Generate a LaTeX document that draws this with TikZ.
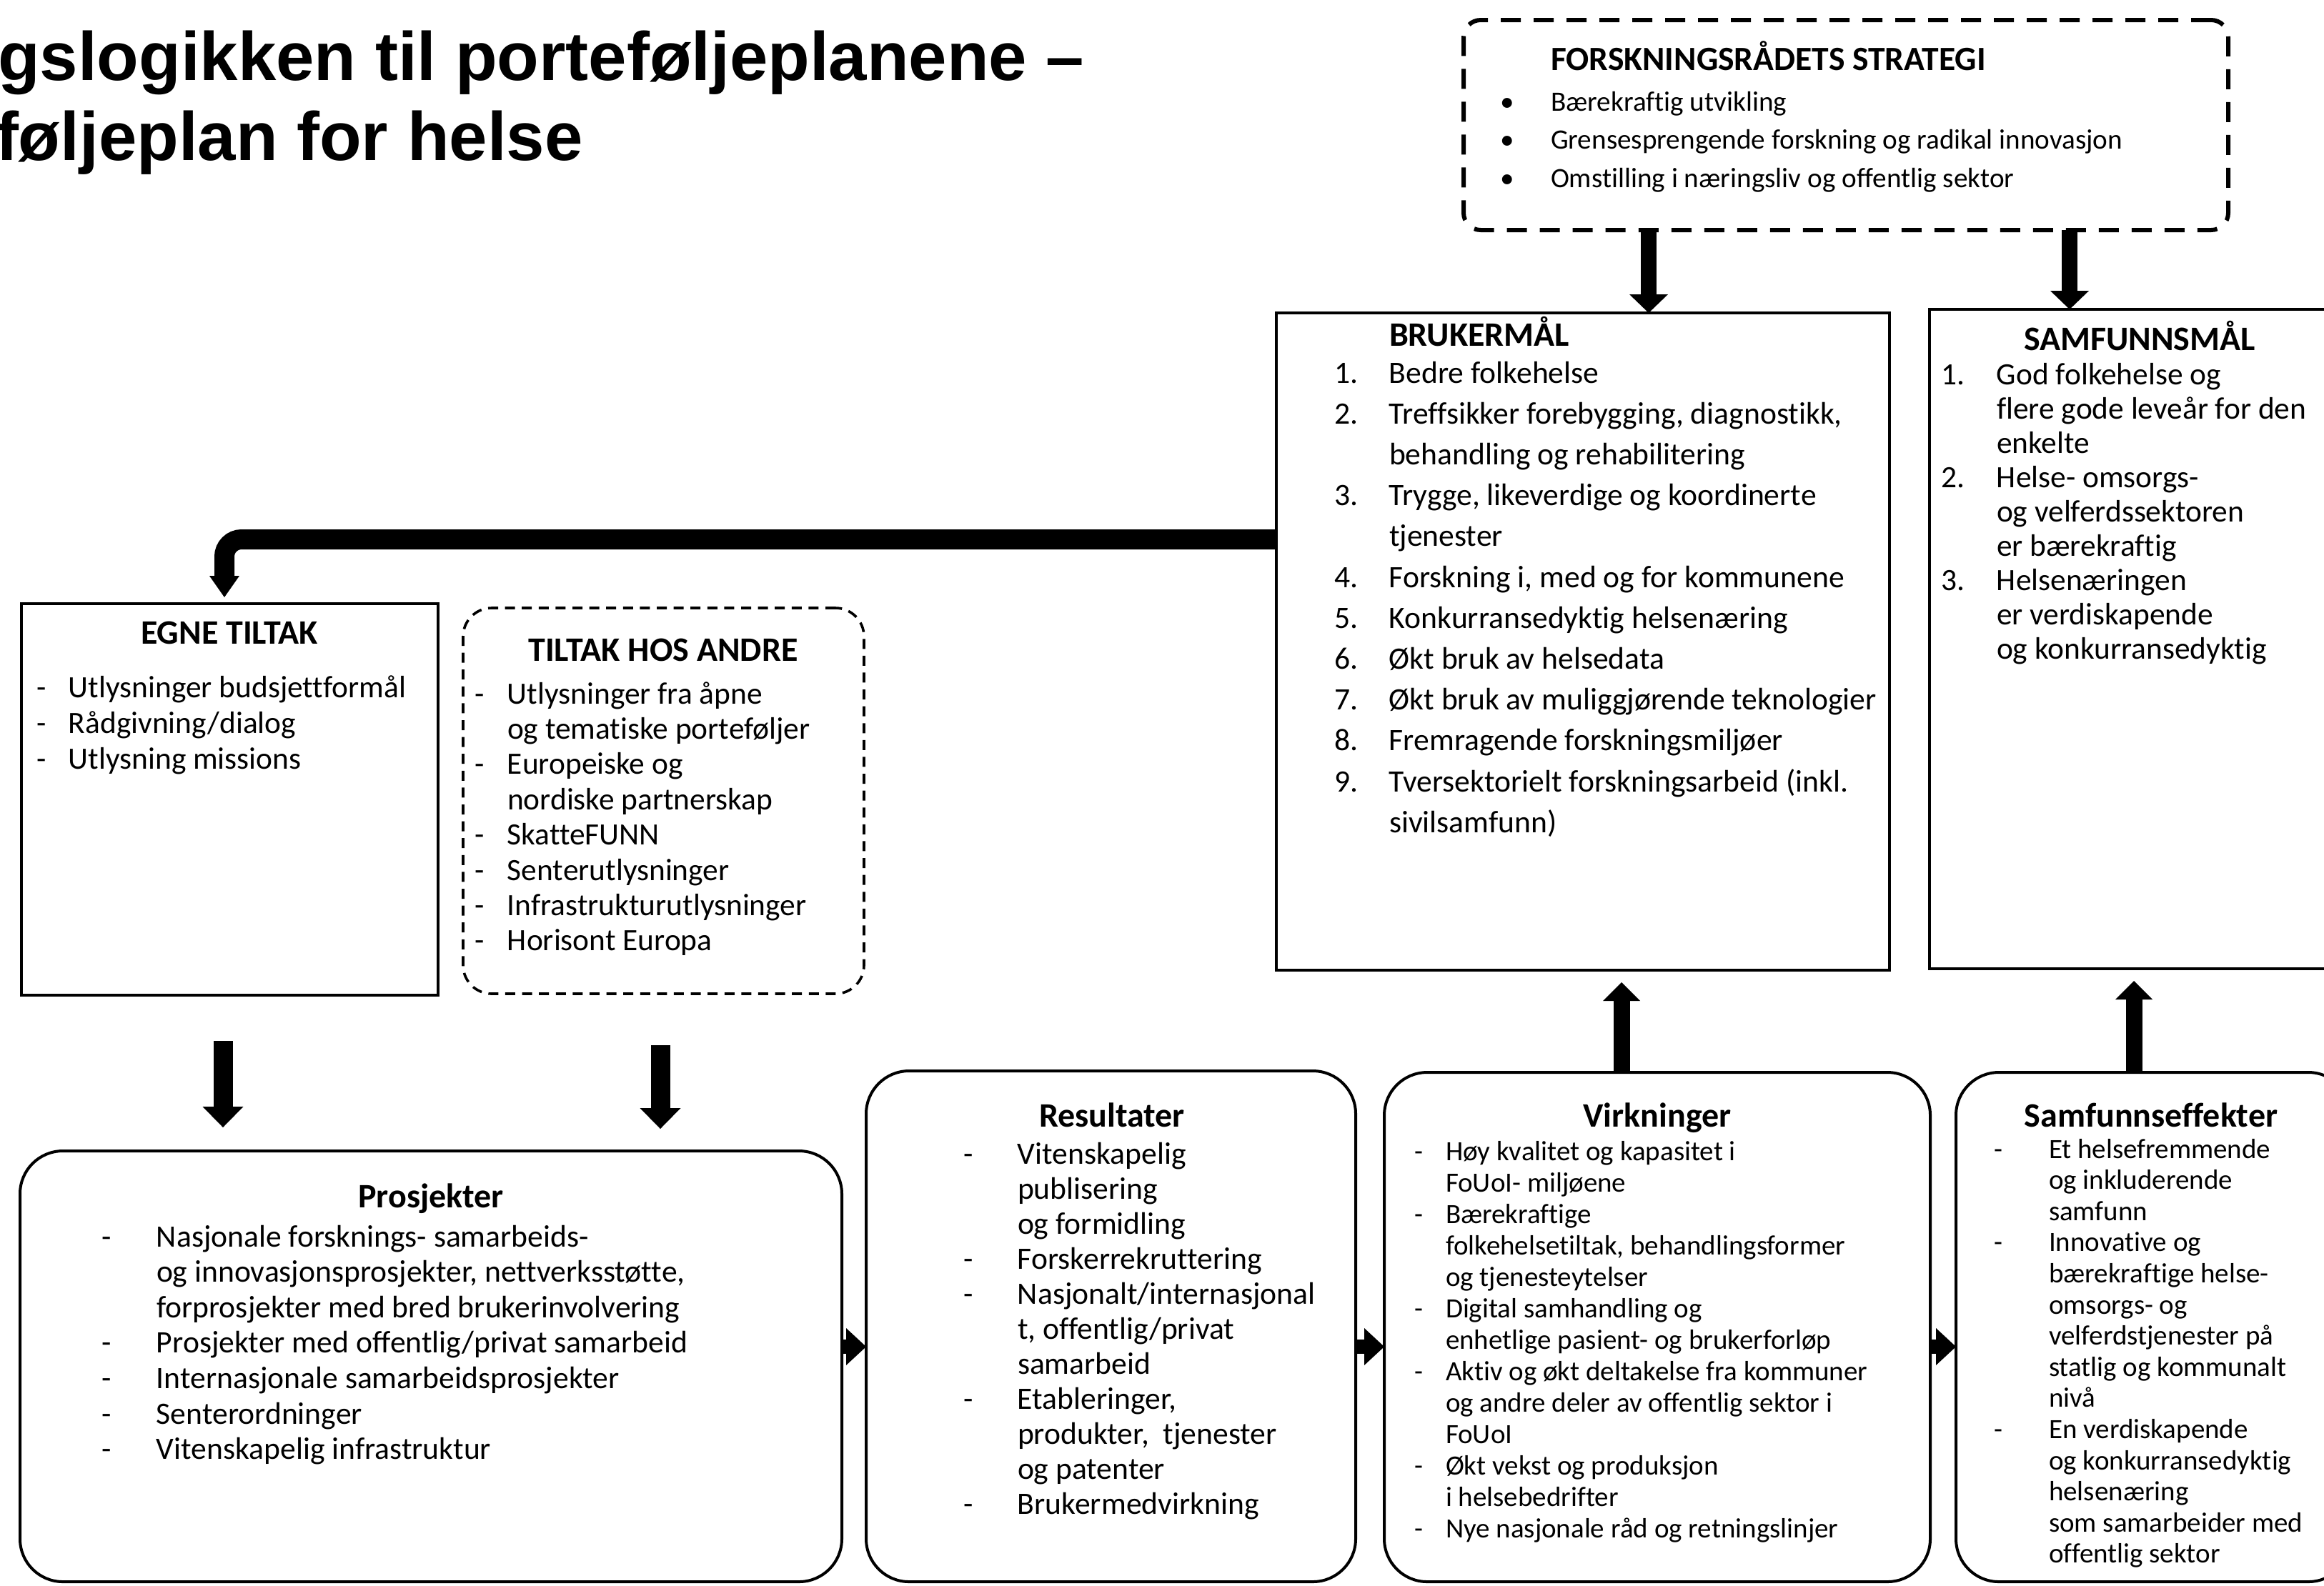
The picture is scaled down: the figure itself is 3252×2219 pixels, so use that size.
\documentclass[tikz,border=0pt]{standalone}
\usepackage{fontspec}
\setmainfont{Carlito}[Ligatures=NoCommon]
\newfontfamily\arialfont{Liberation Sans}
\usetikzlibrary{arrows.meta}
\newcommand{\myfs}[2]{\fontsize{#1pt}{#2pt}\selectfont}
\newcommand{\mylist}[2]{\begin{tabular}[t]{@{}p{#1}@{}l@{}}#2\end{tabular}}
\begin{document}
\begin{tikzpicture}[x=0.25pt,y=-0.25pt,
  box/.style={draw,line width=1pt,inner sep=0pt,outer sep=0pt},
  rbox/.style={box,rounded corners=15pt},
  stratbox/.style={draw,line width=1.5pt,dash pattern=on 7pt off 4.5pt,rounded corners=6pt,inner sep=0pt,outer sep=0pt},
  andrebox/.style={draw,line width=0.9pt,dash pattern=on 3.5pt off 2.4pt,rounded corners=10pt,inner sep=0pt,outer sep=0pt},
  head/.style={anchor=base,inner sep=0pt,outer sep=0pt,font=\myfs{12}{14}\bfseries},
  items/.style={anchor=base west,inner sep=0pt,outer sep=0pt},
  bigtitle/.style={anchor=base west,inner sep=0pt,outer sep=0pt,font=\arialfont\bfseries\myfs{24}{28}},
  varrow/.style={line width=5.5pt,-{Triangle[length=6.5pt,width=13.5pt,line width=0pt]}},
  darrow/.style={line width=6.75pt,-{Triangle[length=7.25pt,width=14.25pt,line width=0pt]}},
  uarrow/.style={line width=5.75pt,-{Triangle[length=6.5pt,width=13pt,line width=0pt]}},
  rarrow/.style={line width=5pt,-{Triangle[length=7pt,width=13pt,line width=0pt]}},
  elbow/.style={line width=7pt,rounded corners=6pt,-{Triangle[length=7.5pt,width=10.5pt,line width=0pt]}}
]
\useasboundingbox (0,0) rectangle (3252,2219);

% main title (cut at left edge)
\node[bigtitle] (t1) at (-3,112) {gslogikken til porteføljeplanene –};
\node[bigtitle] (t2) at (-6,224) {føljeplan for helse};

% boxes
\node[stratbox,minimum width=267.5pt,minimum height=73.5pt] (strat) at (2583,175) {};
\node[box,minimum width=214.5pt,minimum height=230pt] (bm) at (2215,898) {};
\node[box,minimum width=145pt,minimum height=230.75pt] (sm) at (2990,894.5) {};
\node[box,minimum width=145.75pt,minimum height=137pt] (egne) at (321.5,1119) {};
\node[andrebox,minimum width=140.25pt,minimum height=135pt] (andre) at (928.5,1121) {};
\node[rbox,minimum width=287.5pt,minimum height=150.75pt] (prosj) at (603,1912.5) {};
\node[rbox,minimum width=171.25pt,minimum height=178.75pt] (res) at (1554.5,1856.5) {};
\node[rbox,minimum width=191pt,minimum height=178.25pt] (virk) at (2319,1857.5) {};
\node[rbox,minimum width=138.25pt,minimum height=178.25pt] (seff) at (3013.5,1857.5) {};

% strategy
\node[items,font=\myfs{11.9}{14}\bfseries] (strattitle) at (2170,98) {FORSKNINGSRÅDETS STRATEGI};
\node[items,font=\myfs{9.8}{13.4}] (strattxt) at (2099,155) {\mylist{17.75pt}{%
•&Bærekraftig utvikling\\
•&Grensesprengende forskning og radikal innovasjon\\
•&Omstilling i næringsliv og offentlig sektor}};

% brukermål
\node[items,font=\myfs{12}{14}\bfseries] (bmtitle) at (1944,484) {BRUKERMÅL};
\node[items,font=\myfs{10.9}{14.3}] (bmtxt) at (1867,536) {\mylist{19.25pt}{%
1.&Bedre folkehelse\\
2.&Treffsikker forebygging, diagnostikk,\\
&behandling og rehabilitering\\
3.&Trygge, likeverdige og koordinerte\\
&tjenester\\
4.&Forskning i, med og for kommunene\\
5.&Konkurransedyktig helsenæring\\
6.&Økt bruk av helsedata\\
7.&Økt bruk av muliggjørende teknologier\\
8.&Fremragende forskningsmiljøer\\
9.&Tversektorielt forskningsarbeid (inkl.\\
&sivilsamfunn)}};

% samfunnsmål
\node[head] (smtitle) at (2994,490) {SAMFUNNSMÅL};
\node[items,font=\myfs{10.85}{12.0}] (smtxt) at (2716,538) {\mylist{19.5pt}{%
1.&God folkehelse og\\
&flere gode leveår for den\\
&enkelte\\
2.&Helse- omsorgs-\\
&og velferdssektoren\\
&er bærekraftig\\
3.&Helsenæringen\\
&er verdiskapende\\
&og konkurransedyktig}};

% egne tiltak
\node[head] (egnetitle) at (321,901) {EGNE TILTAK};
\node[items,font=\myfs{10.85}{12.6}] (egnetxt) at (51,976) {\mylist{11.25pt}{%
-&Utlysninger budsjettformål\\
-&Rådgivning/dialog\\
-&Utlysning missions}};

% tiltak hos andre
\node[head] (andretitle) at (928,925) {TILTAK HOS ANDRE};
\node[items,font=\myfs{10.85}{12.35}] (andretxt) at (664,985) {\mylist{11.5pt}{%
-&Utlysninger fra åpne\\
&og tematiske porteføljer\\
-&Europeiske og\\
&nordiske partnerskap\\
-&SkatteFUNN\\
-&Senterutlysninger\\
-&Infrastrukturutlysninger\\
-&Horisont Europa}};

% prosjekter
\node[head] (prosjtitle) at (603,1690) {Prosjekter};
\node[items,font=\myfs{10.9}{12.4}] (prosjtxt) at (142,1745) {\mylist{19.25pt}{%
-&Nasjonale forsknings- samarbeids-\\
&og innovasjonsprosjekter, nettverksstøtte,\\
&forprosjekter med bred brukerinvolvering\\
-&Prosjekter med offentlig/privat samarbeid\\
-&Internasjonale samarbeidsprosjekter\\
-&Senterordninger\\
-&Vitenskapelig infrastruktur}};

% resultater
\node[head] (restitle) at (1556,1577) {Resultater};
\node[items,font=\myfs{10.9}{12.25}] (restxt) at (1348,1629) {\mylist{19pt}{%
-&Vitenskapelig\\
&publisering\\
&og formidling\\
-&Forskerrekruttering\\
-&Nasjonalt/internasjonal\\
&t, offentlig/privat\\
&samarbeid\\
-&Etableringer,\\
&produkter,\ \ tjenester\\
&og patenter\\
-&Brukermedvirkning}};

% virkninger
\node[head] (virktitle) at (2319,1577) {Virkninger};
\node[items,font=\myfs{9.75}{11}] (virktxt) at (1979,1624) {\mylist{11pt}{%
-&Høy kvalitet og kapasitet i\\
&FoUoI- miljøene\\
-&Bærekraftige\\
&folkehelsetiltak, behandlingsformer\\
&og tjenesteytelser\\
-&Digital samhandling og\\
&enhetlige pasient- og brukerforløp\\
-&Aktiv og økt deltakelse fra kommuner\\
&og andre deler av offentlig sektor i\\
&FoUoI\\
-&Økt vekst og produksjon\\
&i helsebedrifter\\
-&Nye nasjonale råd og retningslinjer}};

% samfunnseffekter
\node[head] (sefftitle) at (3010,1577) {Samfunnseffekter};
\node[items,font=\myfs{9.75}{10.9}] (sefftxt) at (2790,1621) {\mylist{19.25pt}{%
-&Et helsefremmende\\
&og inkluderende\\
&samfunn\\
-&Innovative og\\
&bærekraftige helse-\\
&omsorgs- og\\
&velferdstjenester på\\
&statlig og kommunalt\\
&nivå\\
-&En verdiskapende\\
&og konkurransedyktig\\
&helsenæring\\
&som samarbeider med\\
&offentlig sektor}};

% helper coordinates for connector positions
\coordinate (s1) at (2307,0);
\coordinate (s2) at (2896,0);
\coordinate (ey) at (0,755);
\coordinate (ex) at (314,0);
\coordinate (dx1) at (312,0);
\coordinate (dx2) at (924,0);
\coordinate (ux1) at (2269,0);
\coordinate (ux2) at (2986,0);
\coordinate (ay) at (0,1885);

% connectors
\draw[varrow] (s1 |- strat.south) -- (s1 |- bm.north);
\draw[varrow] (s2 |- strat.south) -- (s2 |- sm.north);
\draw[elbow,shorten >=2.25pt] (ey -| bm.west) -| (ex |- egne.north);
\draw[darrow,shorten <=16pt,shorten >=8.25pt] (dx1 |- egne.south) -- (dx1 |- prosj.north);
\draw[darrow,shorten <=18pt,shorten >=7.75pt] (dx2 |- andre.south) -- (dx2 |- prosj.north);
\draw[uarrow,shorten >=4.25pt] (ux1 |- virk.north) -- (ux1 |- bm.south);
\draw[uarrow,shorten >=4.25pt] (ux2 |- seff.north) -- (ux2 |- sm.south);
\draw[rarrow] (ay -| prosj.east) -- (ay -| res.west);
\draw[rarrow] (ay -| res.east) -- (ay -| virk.west);
\draw[rarrow] (ay -| virk.east) -- (ay -| seff.west);
\end{tikzpicture}
\end{document}
